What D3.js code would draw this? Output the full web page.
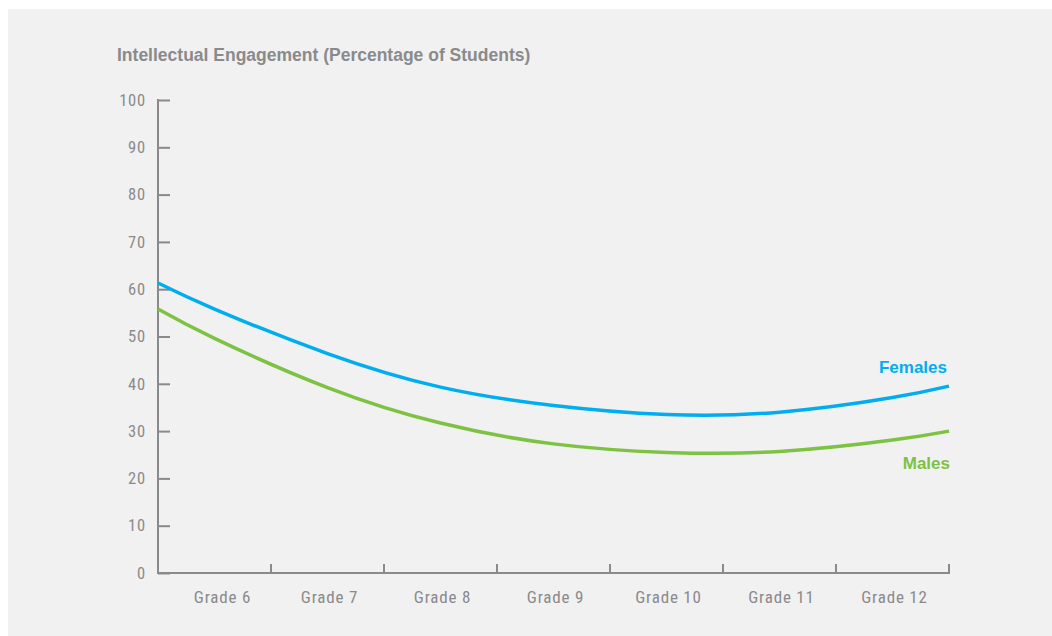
<!DOCTYPE html>
<html>
<head>
<meta charset="utf-8">
<script src="https://cdn.jsdelivr.net/npm/d3@7/dist/d3.min.js"></script>
<style>
  html, body { margin: 0; padding: 0; background: #ffffff; }
  svg { display: block; }
</style>
</head>
<body>
<svg id="chart" width="1052" height="636"></svg>
<script>
// ---- data ----
const categories = ["Grade 6", "Grade 7", "Grade 8", "Grade 9", "Grade 10", "Grade 11", "Grade 12"];
const gradePositions = [5.5, 6, 7, 8, 9, 10, 11, 12, 12.5];
const femalesValues = [61.3, 55.8, 46.4, 39.3, 35.4, 33.5, 34.0, 37.1, 39.5];
const malesValues = [55.8, 49.6, 39.2, 31.7, 27.3, 25.5, 25.7, 28.1, 30.0];
const yTicks = [0, 10, 20, 30, 40, 50, 60, 70, 80, 90, 100];
const titleText = "Intellectual Engagement (Percentage of Students)";

(function () {
// ---- layout ----
const svg = d3.select("#chart");
const W = 1052, H = 636;
const mLeft = 158, mRight = 949, mTop = 100, mBottom = 573;
const gray = "#8a8a8c";
const blue = "#00aeef";
const green = "#7dc242";

svg.append("rect").attr("x", 8).attr("y", 9).attr("width", W - 8).attr("height", H - 9).attr("fill", "#f1f1f1");

const x = d3.scaleLinear().domain([5.5, 12.5]).range([mLeft, mRight]);
const xBand = d3.scaleBand().domain(categories).range([mLeft, mRight]).padding(0);
const y = d3.scaleLinear().domain([0, 100]).range([mBottom, mTop]);

// title
svg.append("text")
  .attr("x", 117).attr("y", 61)
  .attr("font-family", "'Liberation Sans', Arial, sans-serif")
  .attr("font-weight", "bold").attr("font-size", 17.5)
  .attr("fill", gray)
  .text(titleText);

const condensed = "'Liberation Sans Narrow', 'Arial Narrow', 'Roboto Condensed', 'DejaVu Sans Condensed', sans-serif";

// y axis
const yAxis = svg.append("g").attr("transform", `translate(${mLeft},0)`)
  .call(d3.axisRight(y).tickValues(yTicks).tickSize(12).tickFormat(d3.format("d")));
yAxis.select(".domain").remove();
yAxis.selectAll(".tick line").attr("stroke", gray).attr("stroke-width", 2);
yAxis.selectAll(".tick text")
  .attr("x", -12).attr("text-anchor", "end")
  .attr("font-family", condensed).attr("font-size", 16.5).attr("letter-spacing", "0.8px")
  .attr("fill", gray);
yAxis.append("line").attr("x1", 0).attr("x2", 0).attr("y1", mTop - 1).attr("y2", mBottom + 1)
  .attr("stroke", gray).attr("stroke-width", 2);

// x axis
const xAxis = svg.append("g").attr("transform", `translate(0,${mBottom})`);
xAxis.append("line").attr("x1", mLeft - 1).attr("x2", mRight + 1).attr("y1", 0).attr("y2", 0)
  .attr("stroke", gray).attr("stroke-width", 2);
xAxis.selectAll("line.tk").data(categories).enter().append("line").attr("class", "tk")
  .attr("x1", d => xBand(d) + xBand.bandwidth()).attr("x2", d => xBand(d) + xBand.bandwidth())
  .attr("y1", 0).attr("y2", -9)
  .attr("stroke", gray).attr("stroke-width", 2);
xAxis.selectAll("text.lbl").data(categories).enter().append("text").attr("class", "lbl")
  .attr("x", (d, i) => xBand(d) + xBand.bandwidth() / 2 + (i === 0 ? 8 : 2))
  .attr("y", 30)
  .attr("text-anchor", "middle")
  .attr("font-family", condensed).attr("font-size", 17).attr("letter-spacing", "0.8px")
  .attr("fill", gray)
  .text(d => d);

// lines
const line = d3.line().x(d => x(d[0])).y(d => y(d[1])).curve(d3.curveNatural);
const femData = gradePositions.map((g, i) => [g, femalesValues[i]]);
const maleData = gradePositions.map((g, i) => [g, malesValues[i]]);

svg.append("path").datum(maleData).attr("d", line)
  .attr("fill", "none").attr("stroke", green).attr("stroke-width", 3.5);
svg.append("path").datum(femData).attr("d", line)
  .attr("fill", "none").attr("stroke", blue).attr("stroke-width", 3.5);

// series labels
svg.append("text").attr("x", 947).attr("y", 373).attr("text-anchor", "end")
  .attr("font-family", "'Liberation Sans', Arial, sans-serif").attr("font-weight", "bold")
  .attr("font-size", 17).attr("fill", blue).text("Females");
svg.append("text").attr("x", 950).attr("y", 469).attr("text-anchor", "end")
  .attr("font-family", "'Liberation Sans', Arial, sans-serif").attr("font-weight", "bold")
  .attr("font-size", 17).attr("fill", green).text("Males");
})();
</script>
</body>
</html>
